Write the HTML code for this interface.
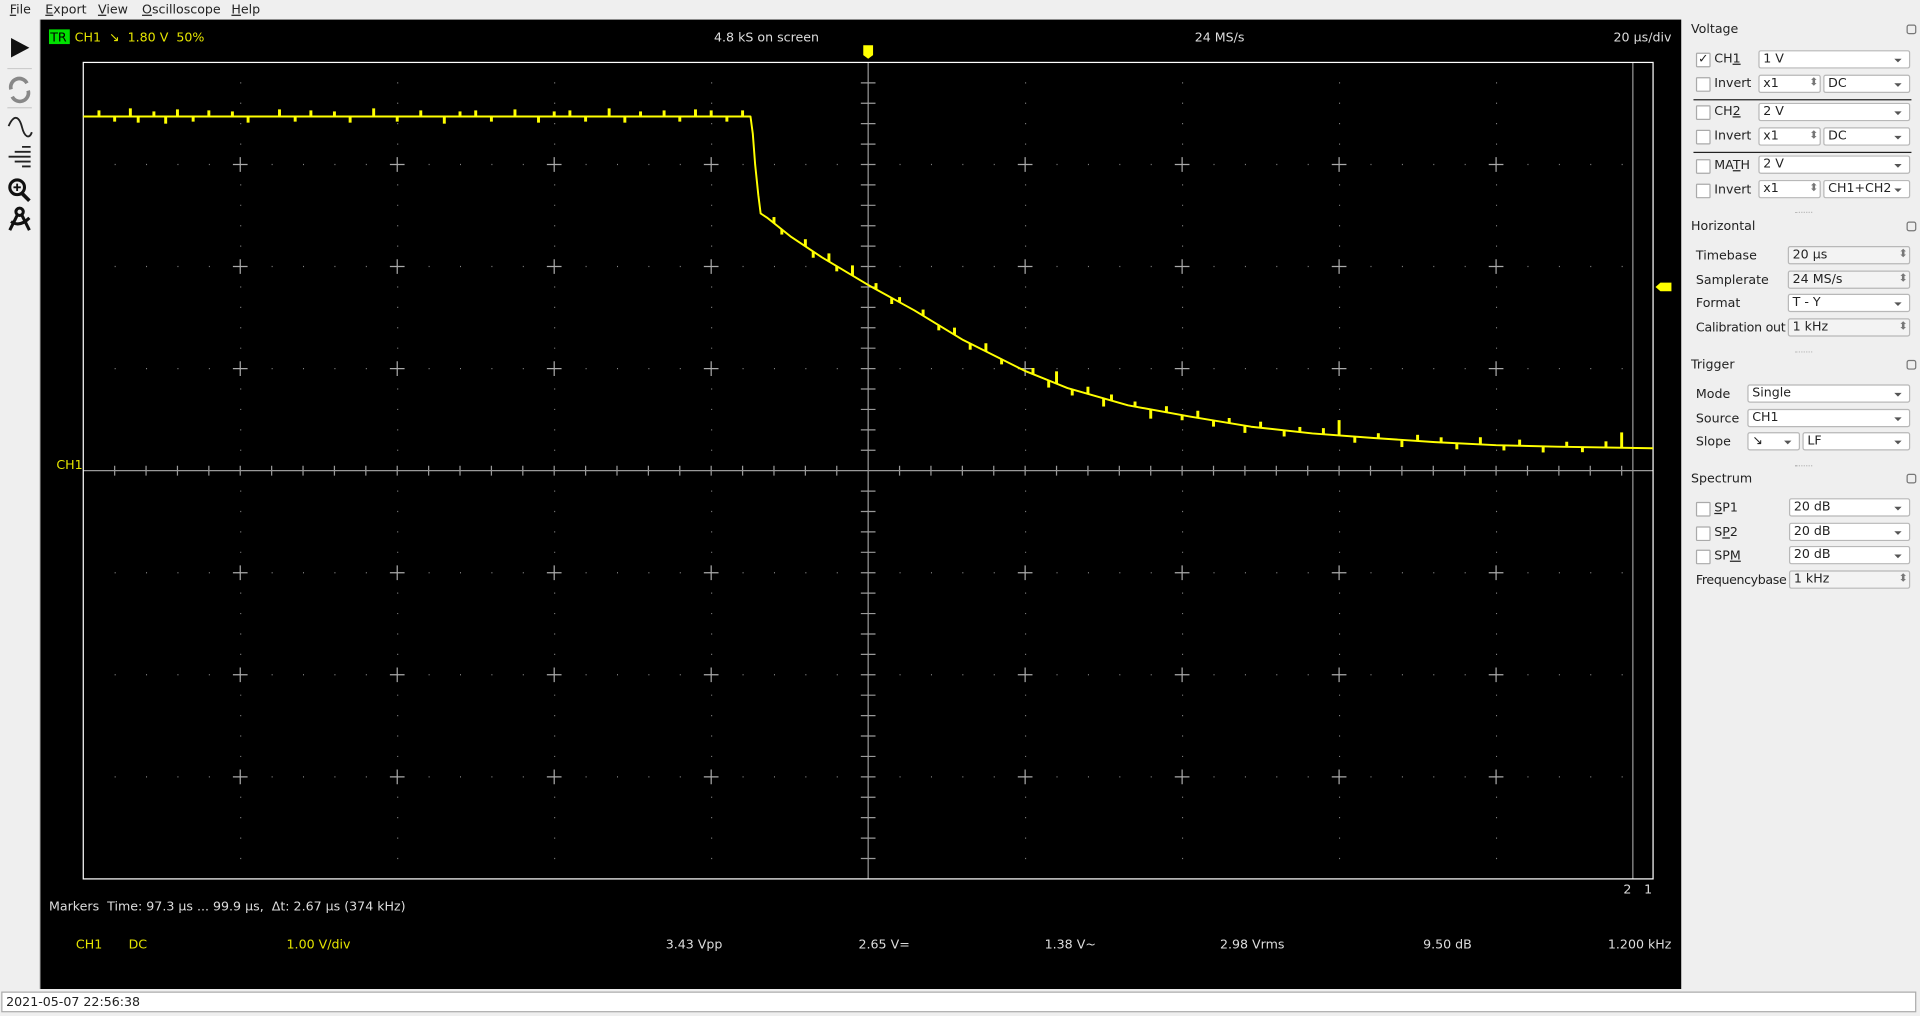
<!DOCTYPE html>
<html><head><meta charset="utf-8">
<style>
html,body{margin:0;padding:0;width:1920px;height:1016px;overflow:hidden;background:#efefef}
#root{position:absolute;left:0;top:0;width:1568px;height:830px;transform:scale(1.22449,1.22410);transform-origin:0 0;font-family:"DejaVu Sans","Liberation Sans",sans-serif;font-size:10.3px;color:#222}
.abs{position:absolute;white-space:nowrap}
.fld{position:absolute;height:15px;background:#fff;border:1px solid #b8b8b8;border-radius:2px;box-sizing:border-box;font-size:10.3px;line-height:13px;padding-left:3px;white-space:nowrap;overflow:hidden}
.fld.ro{background:#f3f3f3}
.dd:after{content:"";position:absolute;right:6px;top:6px;border-left:3px solid transparent;border-right:3px solid transparent;border-top:3px solid #555}
.spin:after{content:"⬍";position:absolute;right:1px;top:0;font-size:9px;color:#777}
.cb{position:absolute;width:10px;height:10px;background:#fff;border:1px solid #aaa;border-radius:1px;font-size:10px;line-height:10px;text-align:center}
.lbl{position:absolute;font-size:10.3px;white-space:nowrap}
.sec{position:absolute;left:1381px;font-size:10.3px}
.float{position:absolute;left:1557px;width:8px;height:8px;border:1px solid #777;border-radius:2px;box-sizing:border-box}
.dots{position:absolute;left:1466px;width:14px;border-top:1px dotted #bbb}
</style></head><body>
<div id="root">
  <div class="abs menu" style="left:0;top:0;width:1568px;height:16px;background:#efefef;line-height:16px">
    <span class="abs" style="left:8px"><u>F</u>ile</span>
    <span class="abs" style="left:37px"><u>E</u>xport</span>
    <span class="abs" style="left:80px"><u>V</u>iew</span>
    <span class="abs" style="left:116px"><u>O</u>scilloscope</span>
    <span class="abs" style="left:189px"><u>H</u>elp</span>
  </div>
  <div class="abs" style="left:0;top:16px;width:32px;height:792px;background:#efefef;border-right:1px solid #ccc">
    <svg width="32" height="180" style="position:absolute;left:0;top:0">
      <polygon points="9,15 24,23 9,31" fill="#111"/>
      <line x1="6" y1="40" x2="26" y2="40" stroke="#ccc"/>
      <g fill="none" stroke="#888" stroke-width="3"><path d="M9,57 A7,7 0 0 1 22,52"/><path d="M23,58 A7,7 0 0 1 10,63"/></g>
      <line x1="6" y1="72" x2="26" y2="72" stroke="#ccc"/>
      <path d="M7,87 C12,76 16,80 18,88 S24,98 26,92" fill="none" stroke="#222" stroke-width="1.5"/>
      <g stroke="#222" stroke-width="1.5"><line x1="18" y1="104" x2="25" y2="104"/><line x1="12" y1="108" x2="25" y2="108"/><line x1="7" y1="112" x2="25" y2="112"/><line x1="12" y1="116" x2="25" y2="116"/><line x1="18" y1="120" x2="25" y2="120"/></g>
      <g><circle cx="14" cy="137" r="6" fill="none" stroke="#111" stroke-width="2.5"/><line x1="18" y1="142" x2="24" y2="148" stroke="#111" stroke-width="3"/><path d="M11,137h6M14,134v6" stroke="#111" stroke-width="1.5"/></g>
      <g stroke="#111" stroke-width="2.5" fill="none"><circle cx="16" cy="157" r="3"/><line x1="14" y1="160" x2="8" y2="172"/><line x1="18" y1="160" x2="24" y2="172"/><path d="M9,165 Q16,170 24,162"/></g>
    </svg>
  </div>
  <svg id="scope" width="1340" height="792" style="position:absolute;left:33px;top:16px;background:#000" viewBox="33 16 1340 792"></svg>
  <div class="abs" style="left:0;top:808px;width:1568px;height:22px;background:#efefef">
    <div class="abs" style="left:1px;top:2px;width:1564px;height:17px;background:#fff;border:1px solid #aaa;line-height:17px;padding-left:3px;box-sizing:border-box">2021-05-07 22:56:38</div>
  </div>
  <div>
    <div class="sec" style="top:18px">Voltage</div><div class="float" style="top:20px"></div>
    <div class="cb" style="left:1385px;top:43px">✓</div><div class="lbl" style="left:1400px;top:42px">CH<u>1</u></div>
    <div class="fld dd" style="left:1436px;top:41px;width:124px">1 V</div>
    <div class="cb" style="left:1385px;top:63px"></div><div class="lbl" style="left:1400px;top:62px">Invert</div>
    <div class="fld spin" style="left:1436px;top:61px;width:51px">x1</div>
    <div class="fld dd" style="left:1489px;top:61px;width:71px">DC</div>
    <div class="abs" style="left:1383px;top:81px;width:178px;border-top:1px solid #222"></div>
    <div class="cb" style="left:1385px;top:86px"></div><div class="lbl" style="left:1400px;top:85px">CH<u>2</u></div>
    <div class="fld dd" style="left:1436px;top:84px;width:124px">2 V</div>
    <div class="cb" style="left:1385px;top:106px"></div><div class="lbl" style="left:1400px;top:105px">Invert</div>
    <div class="fld spin" style="left:1436px;top:104px;width:51px">x1</div>
    <div class="fld dd" style="left:1489px;top:104px;width:71px">DC</div>
    <div class="abs" style="left:1383px;top:124px;width:178px;border-top:1px solid #222"></div>
    <div class="cb" style="left:1385px;top:130px"></div><div class="lbl" style="left:1400px;top:129px">MA<u>T</u>H</div>
    <div class="fld dd" style="left:1436px;top:127px;width:124px">2 V</div>
    <div class="cb" style="left:1385px;top:150px"></div><div class="lbl" style="left:1400px;top:149px">Invert</div>
    <div class="fld spin" style="left:1436px;top:147px;width:51px">x1</div>
    <div class="fld dd" style="left:1489px;top:147px;width:71px">CH1+CH2</div>
    <div class="dots" style="top:173px"></div>

    <div class="sec" style="top:179px">Horizontal</div><div class="float" style="top:181px"></div>
    <div class="lbl" style="left:1385px;top:203px">Timebase</div><div class="fld ro spin" style="left:1460px;top:201px;width:100px">20 µs</div>
    <div class="lbl" style="left:1385px;top:223px">Samplerate</div><div class="fld ro spin" style="left:1460px;top:221px;width:100px">24 MS/s</div>
    <div class="lbl" style="left:1385px;top:242px">Format</div><div class="fld dd" style="left:1460px;top:240px;width:100px">T - Y</div>
    <div class="lbl" style="left:1385px;top:262px;letter-spacing:-0.2px">Calibration out</div><div class="fld ro spin" style="left:1460px;top:260px;width:100px">1 kHz</div>
    <div class="dots" style="top:287px"></div>

    <div class="sec" style="top:292px">Trigger</div><div class="float" style="top:294px"></div>
    <div class="lbl" style="left:1385px;top:316px">Mode</div><div class="fld dd" style="left:1427px;top:314px;width:133px">Single</div>
    <div class="lbl" style="left:1385px;top:336px">Source</div><div class="fld dd" style="left:1427px;top:334px;width:133px">CH1</div>
    <div class="lbl" style="left:1385px;top:355px">Slope</div><div class="fld dd" style="left:1427px;top:353px;width:43px">↘</div>
    <div class="fld dd" style="left:1472px;top:353px;width:88px">LF</div>
    <div class="dots" style="top:380px"></div>

    <div class="sec" style="top:385px">Spectrum</div><div class="float" style="top:387px"></div>
    <div class="cb" style="left:1385px;top:410px"></div><div class="lbl" style="left:1400px;top:409px"><u>S</u>P1</div>
    <div class="fld dd" style="left:1461px;top:407px;width:99px">20 dB</div>
    <div class="cb" style="left:1385px;top:430px"></div><div class="lbl" style="left:1400px;top:429px">S<u>P</u>2</div>
    <div class="fld dd" style="left:1461px;top:427px;width:99px">20 dB</div>
    <div class="cb" style="left:1385px;top:449px"></div><div class="lbl" style="left:1400px;top:448px">SP<u>M</u></div>
    <div class="fld dd" style="left:1461px;top:446px;width:99px">20 dB</div>
    <div class="lbl" style="left:1385px;top:468px;letter-spacing:-0.3px">Frequencybase</div><div class="fld ro spin" style="left:1461px;top:466px;width:99px">1 kHz</div>
  </div>
</div>
<script>
// ---- chart data ----
const timeUs = [0,10,20,30,40,50,60,70,80,85,85.3,85.6,86.0,86.3,87.1,90.2,94.1,100,105.9,112.1,119.9,125.4,133.1,141,148.8,156.6,164.4,172.2,180,187.8,200];
const ch1Volts = [3.47,3.47,3.47,3.47,3.47,3.47,3.47,3.47,3.47,3.47,3.3,3.0,2.7,2.52,2.48,2.29,2.09,1.82,1.57,1.28,0.98,0.81,0.64,0.53,0.43,0.365,0.32,0.28,0.25,0.235,0.22];
const spikeTimes = [2,4,6,7,9,10.5,12,14,16,19,21,25,27,29,32,34,37,40,43,46,48,50,52,55,58,60,62,64,67,69,71,74,76,78,80,82,84,
  88,89,92,93,95,96,98,101,103,104,107,109,111,113,115,117,121,123,124,126,128,130,131,134,136,138,140,142,144,146,148,150,153,155,158,160,162,165,168,170,173,175,178,181,183,186,189,191,194,196,198.5];
const spikeDeltas = [0.06,-0.05,0.08,-0.06,0.05,-0.07,0.07,-0.05,0.06,0.05,-0.06,0.07,-0.05,0.06,0.05,-0.06,0.08,-0.05,0.06,-0.07,0.05,0.06,-0.05,0.07,-0.06,0.05,0.06,-0.05,0.08,-0.06,0.05,0.06,-0.05,0.07,0.06,-0.05,0.06,
  0.06,-0.05,0.07,-0.06,0.08,-0.05,0.1,0.06,-0.06,0.05,0.06,-0.05,0.07,-0.06,0.08,-0.05,0.06,-0.07,0.12,-0.06,0.07,-0.08,0.06,0.05,-0.09,0.06,-0.05,0.07,-0.06,0.05,-0.07,0.06,-0.06,0.05,0.06,0.15,-0.06,0.05,-0.07,0.06,0.05,-0.06,0.07,-0.05,0.06,-0.06,0.05,-0.05,0.06,0.15];
const statsLabels = ["3.43 Vpp","2.65 V=","1.38 V~","2.98 Vrms","9.50 dB","1.200 kHz"];
const triggerLevel = 1.80;

const NS='http://www.w3.org/2000/svg';
const svg=document.getElementById('scope');
const L=68,T=51,R=1350,B=718;
const xDiv=(R-L)/10, yDiv=(B-T)/8, y0=(T+B)/2;
function xs(t){return L+t/200*(R-L);}
function ys(v){return y0-v*yDiv;}
function mk(tag,attrs){const e=document.createElementNS(NS,tag);for(const k in attrs)e.setAttribute(k,attrs[k]);svg.appendChild(e);return e;}
function txt(x,y,s,fill,anchor){const e=mk('text',{x:x,y:y,fill:fill,'font-size':10.3,'font-family':'DejaVu Sans, Liberation Sans, sans-serif','text-anchor':anchor||'start'});e.setAttribute('xml:space','preserve');e.style.whiteSpace='pre';e.textContent=s;return e;}

let d='';
for(let i=1;i<10;i++){const x=L+i*xDiv;if(i===5)continue;for(let j=1;j<40;j++){const y=T+j*yDiv/5;if(j%5===0)continue;d+=`M${x},${y}h0.8`;}}
for(let j=1;j<8;j++){const y=T+j*yDiv;if(j===4)continue;for(let i=1;i<50;i++){const x=L+i*xDiv/5;if(i%5===0)continue;d+=`M${x},${y}h0.8`;}}
const dots=mk('path',{d:d,stroke:'#888','stroke-width':1});


let c='';
for(let i=1;i<10;i++)for(let j=1;j<8;j++){if(i===5||j===4)continue;const x=L+i*xDiv,y=T+j*yDiv;c+=`M${x-6},${y}h12M${x},${y-6}v12`;}
const cr=mk('path',{d:c,stroke:'#aaa','stroke-width':1});


let a=`M${L+5*xDiv},${T}V${B}M${L},${y0}H${R}`;
for(let j=1;j<40;j++){const y=T+j*yDiv/5;a+=`M${L+5*xDiv-6},${y}h12`;}
for(let i=1;i<50;i++){const x=L+i*xDiv/5;a+=`M${x},${y0-4}v8`;}
const ax=mk('path',{d:a,stroke:'#999','stroke-width':1});


const ml=mk('line',{x1:1333.5,y1:T,x2:1333.5,y2:B,stroke:'#999','stroke-width':1});


const bd=mk('rect',{x:L,y:T,width:R-L,height:B-T,fill:'none',stroke:'#fff','stroke-width':1});



let p='';
timeUs.forEach((t,i)=>{p+=(i?'L':'M')+xs(t).toFixed(1)+','+ys(ch1Volts[i]).toFixed(1);});
const tr=mk('path',{d:p,fill:'none',stroke:'#ffff00','stroke-width':1.6,'stroke-linejoin':'round'});


function interp(t){for(let i=1;i<timeUs.length;i++){if(t<=timeUs[i]){const f=(t-timeUs[i-1])/(timeUs[i]-timeUs[i-1]);return ch1Volts[i-1]+f*(ch1Volts[i]-ch1Volts[i-1]);}}return ch1Volts[ch1Volts.length-1];}
spikeTimes.forEach((t,i)=>{const v=interp(t);const x=xs(t);const s=mk('rect',{x:x-1.2,y:Math.min(ys(v),ys(v+spikeDeltas[i])),width:2.4,height:Math.abs(spikeDeltas[i]*yDiv),fill:'#ffff00'});

});

const tm=mk('polygon',{points:`${xs(100)-4},37 ${xs(100)+4},37 ${xs(100)+4},45 ${xs(100)},48 ${xs(100)-4},45`,fill:'#ffff00'});


const ty=ys(triggerLevel);
const tl=mk('polygon',{points:`1352,${ty} 1356,${ty-3.5} 1365,${ty-3.5} 1365,${ty+3.5} 1356,${ty+3.5}`,fill:'#ffff00'});



const trb=mk('rect',{x:40,y:24,width:17,height:12,fill:'#00e000'});


txt(41,34,'TR','#000');
const h1=txt(61,34,'CH1  ↘  1.80 V  50%','#e5e500');


txt(626,34,'4.8 kS on screen','#ddd','middle');
txt(996,34,'24 MS/s','#ddd','middle');
txt(1365,34,'20 µs/div','#ddd','end');
const cl=txt(46,383,'CH1','#e5e500');


txt(1329,730,'2','#ddd','middle');txt(1346,730,'1','#ddd','middle');
const mt=txt(40,744,'Markers  Time: 97.3 µs ... 99.9 µs,  Δt: 2.67 µs (374 kHz)','#ddd');


txt(62,775,'CH1','#e5e500');txt(105,775,'DC','#e5e500');txt(234,775,'1.00 V/div','#e5e500');
const sx=[590,743,895,1049,1202,1365];
statsLabels.forEach((s,i)=>{const e=txt(sx[i],775,s,'#ddd','end');

});
</script>
</body></html>
